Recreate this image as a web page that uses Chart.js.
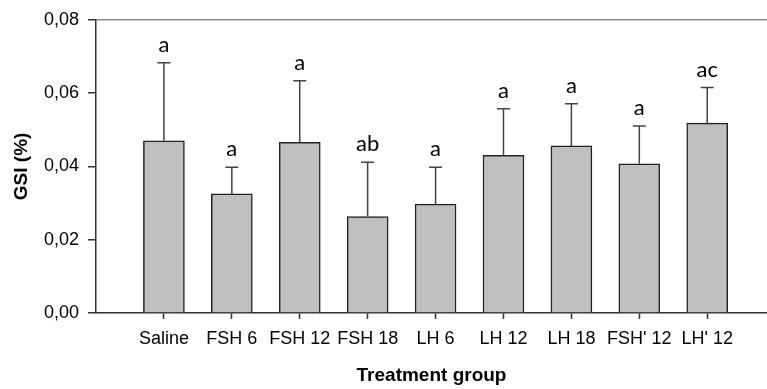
<!DOCTYPE html>
<html>
<head>
<meta charset="utf-8">
<script src="https://cdn.jsdelivr.net/npm/chart.js@4/dist/chart.umd.min.js"></script>
<style>
  body { margin: 0; background: #fff; }
  canvas { display: block; }
</style>
</head>
<body>
<canvas id="chartPlaceholder" width="767" height="389"></canvas>
<script>
const GROUPS = ["Saline", "FSH 6", "FSH 12", "FSH 18", "LH 6", "LH 12", "LH 18", "FSH' 12", "LH' 12"];
const GSI_MEANS = [0.047, 0.0325, 0.0466, 0.0263, 0.0297, 0.043, 0.0456, 0.0407, 0.0518];
const GSI_ERRORS = [0.0213, 0.0073, 0.0168, 0.0148, 0.0101, 0.0127, 0.0115, 0.0103, 0.0097];
const LETTERS = ["a", "a", "a", "ab", "a", "a", "a", "a", "ac"];
const Y_TICKS = [0, 0.02, 0.04, 0.06, 0.08];

Chart.defaults.font.family = "'Liberation Sans', Arial, sans-serif";
Chart.defaults.color = "#000";

// upper error bars and significance letters
const errorBarsPlugin = {
  id: "errorBars",
  afterDatasetsDraw(chart) {
    const ctx = chart.ctx;
    const xScale = chart.scales.x;
    const yScale = chart.scales.y;
    ctx.save();
    ctx.strokeStyle = "#444";
    ctx.lineWidth = 1.5;
    GSI_MEANS.forEach((mean, i) => {
      const x = xScale.getPixelForValue(i);
      const yBar = yScale.getPixelForValue(mean);
      const yTop = yScale.getPixelForValue(mean + GSI_ERRORS[i]);
      ctx.beginPath();
      ctx.moveTo(x, yBar);
      ctx.lineTo(x, yTop);
      ctx.moveTo(x - 6.5, yTop);
      ctx.lineTo(x + 6.5, yTop);
      ctx.stroke();

      ctx.fillStyle = "#000";
      ctx.font = "22px Lato, 'Open Sans', sans-serif";
      ctx.textAlign = "center";
      ctx.textBaseline = "alphabetic";
      ctx.fillText(LETTERS[i], x, yTop - 11);
    });
    ctx.restore();
  },
};

function displayChart(chartId) {
  const ctx = document.getElementById(chartId).getContext("2d");
  return new Chart(ctx, {
    type: "bar",
    data: {
      datasets: [
        {
          label: "GSI",
          data: GSI_MEANS.map((v, i) => ({ x: i, y: v })),
          backgroundColor: "#c0c0c0",
          borderColor: "#222",
          borderWidth: 1.5,
          barThickness: 41,
        },
      ],
    },
    options: {
      responsive: false,
      animation: false,
      layout: { padding: { top: 18, right: 0, left: 0, bottom: 0 } },
      plugins: {
        legend: { display: false },
        tooltip: { enabled: false },
      },
      scales: {
        x: {
          type: "linear",
          offset: false,
          min: -1,
          max: 8.88,
          afterBuildTicks: (scale) => {
            scale.ticks = GROUPS.map((_, i) => ({ value: i }));
          },
          afterFit: (scale) => {
            scale.height = 76;
          },
          ticks: {
            autoSkip: false,
            maxRotation: 0,
            padding: 9,
            font: { size: 18 },
            callback: (value) => GROUPS[value],
          },
          grid: {
            offset: false,
            drawOnChartArea: false,
            drawTicks: true,
            tickLength: 6,
            tickColor: "#333",
            tickWidth: 1.5,
          },
          border: { color: "#333", width: 1.5 },
          title: {
            display: true,
            text: "Treatment group",
            font: { size: 19, weight: "bold" },
            padding: { top: 0, bottom: 2 },
          },
        },
        y: {
          min: 0,
          max: 0.08,
          afterBuildTicks: (scale) => {
            scale.ticks = Y_TICKS.map((v) => ({ value: v }));
          },
          afterFit: (scale) => {
            scale.width = 96;
          },
          ticks: {
            padding: 9,
            font: { size: 18 },
            callback: (value) => value.toFixed(2).replace(".", ","),
          },
          grid: {
            color: (c) => (c.tick && c.tick.value === 0.08 ? "#8a8a8a" : "rgba(0,0,0,0)"),
            lineWidth: 1.5,
            drawTicks: true,
            tickLength: 8,
            tickColor: "#333",
            tickWidth: 1.5,
          },
          border: { color: "#333", width: 1.5 },
          title: {
            display: true,
            text: "GSI (%)",
            font: { size: 19, weight: "bold" },
            padding: { top: 10, bottom: 0 },
          },
        },
      },
    },
    plugins: [errorBarsPlugin],
  });
}

displayChart("chartPlaceholder");
</script>
</body>
</html>
